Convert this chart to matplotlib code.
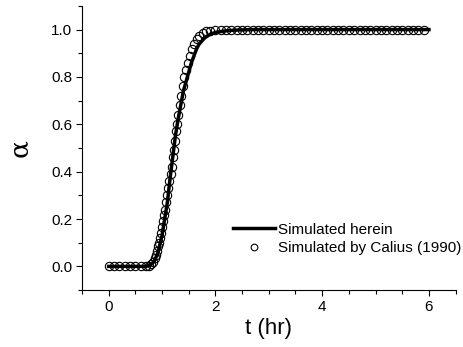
import matplotlib
matplotlib.use("Agg")
import matplotlib.pyplot as plt
from matplotlib.ticker import MultipleLocator

# Simulated herein (solid line)
t_line = [0.00, 0.70, 0.78, 0.85, 0.92, 1.00, 1.05, 1.10, 1.15, 1.20, 1.25, 1.30,
          1.35, 1.40, 1.45, 1.50, 1.55, 1.60, 1.65, 1.70, 1.80, 1.90, 2.00, 2.20,
          2.40, 2.70, 3.00, 4.00, 5.00, 6.00]
a_line = [0.000, 0.000, 0.005, 0.020, 0.055, 0.130, 0.200, 0.270, 0.370, 0.460,
          0.550, 0.620, 0.680, 0.740, 0.780, 0.820, 0.860, 0.890, 0.920, 0.940,
          0.965, 0.980, 0.988, 0.995, 0.998, 1.000, 1.000, 1.000, 1.000, 1.000]

# Simulated by Calius (1990) (open circles)
t_pts = [0.00, 0.10, 0.20, 0.30, 0.40, 0.50, 0.60, 0.70, 0.75,
         0.80, 0.83, 0.86, 0.88, 0.90, 0.92, 0.94, 0.96, 0.98, 1.00,
         1.02, 1.04, 1.06, 1.08, 1.10, 1.12, 1.14, 1.16, 1.18, 1.20,
         1.22, 1.24, 1.26, 1.28, 1.30, 1.33, 1.36, 1.39, 1.42, 1.45,
         1.48, 1.52, 1.56, 1.60, 1.65, 1.70, 1.76, 1.83, 1.90, 2.00,
         2.10, 2.20, 2.30, 2.40, 2.50, 2.60, 2.70, 2.80, 2.90, 3.00,
         3.10, 3.20, 3.30, 3.40, 3.50, 3.60, 3.70, 3.80, 3.90, 4.00,
         4.10, 4.20, 4.30, 4.40, 4.50, 4.60, 4.70, 4.80, 4.90, 5.00,
         5.10, 5.20, 5.30, 5.40, 5.50, 5.60, 5.70, 5.80, 5.90]
a_pts = [0.000, 0.000, 0.000, 0.000, 0.000, 0.000, 0.000, 0.000, 0.000,
         0.010, 0.020, 0.035, 0.050, 0.065, 0.085, 0.100, 0.120, 0.140, 0.165,
         0.190, 0.215, 0.240, 0.270, 0.300, 0.330, 0.360, 0.390, 0.420, 0.460,
         0.490, 0.530, 0.570, 0.600, 0.640, 0.680, 0.720, 0.760, 0.800, 0.830,
         0.860, 0.890, 0.920, 0.940, 0.960, 0.975, 0.985, 0.992, 0.996, 0.999,
         1.000, 1.000, 1.000, 1.000, 1.000, 1.000, 1.000, 1.000, 1.000, 1.000,
         1.000, 1.000, 1.000, 1.000, 1.000, 1.000, 1.000, 1.000, 1.000, 1.000,
         1.000, 1.000, 1.000, 1.000, 1.000, 1.000, 1.000, 1.000, 1.000, 1.000,
         1.000, 1.000, 1.000, 1.000, 1.000, 1.000, 1.000, 1.000, 1.000]

x_ticks = [0, 2, 4, 6]
y_ticks = [0.0, 0.2, 0.4, 0.6, 0.8, 1.0]

plt.rcParams['font.family'] = ['Liberation Sans', 'DejaVu Sans']

fig = plt.figure(figsize=(4.63, 3.47), dpi=100)
ax = fig.add_axes([0.177, 0.164, 0.807, 0.819])

ax.plot(t_line, a_line, color='black', lw=2.5, label='Simulated herein', zorder=3)
ax.plot(t_pts, a_pts, linestyle='none', marker='o', markersize=6,
        markerfacecolor='none', markeredgecolor='black', markeredgewidth=0.8,
        label='Simulated by Calius (1990)', zorder=2)

ax.set_xlim(-0.5, 6.5)
ax.set_ylim(-0.1, 1.1)
ax.set_xticks(x_ticks)
ax.set_yticks(y_ticks)
ax.set_xticklabels([str(v) for v in x_ticks])
ax.set_yticklabels([f"{v:.1f}" for v in y_ticks])
ax.xaxis.set_minor_locator(MultipleLocator(0.5))
ax.yaxis.set_minor_locator(MultipleLocator(0.1))
ax.tick_params(which='major', direction='out', length=4.5, width=0.8, labelsize=11, pad=2.5)
ax.tick_params(which='minor', direction='out', length=3, width=0.8)

for s in ['top', 'right']:
    ax.spines[s].set_visible(False)
for s in ['left', 'bottom']:
    ax.spines[s].set_linewidth(0.8)

ax.set_xlabel('t (hr)', fontsize=16, labelpad=3)
ax.set_ylabel('α', fontsize=19, family=['DejaVu Serif'], labelpad=14)

leg = ax.legend(loc='lower left', bbox_to_anchor=(0.404, 0.123), frameon=False,
                fontsize=11, handlelength=2.75, handletextpad=0.2,
                labelspacing=0.3, borderpad=0.0, borderaxespad=0.0,
                markerscale=0.8)

fig.savefig('out.png', dpi=100)
